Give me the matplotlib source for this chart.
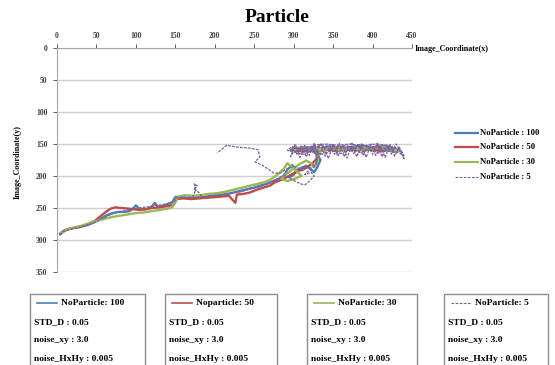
import matplotlib
matplotlib.use('Agg')
import matplotlib.pyplot as plt
from matplotlib.lines import Line2D
from matplotlib.patches import Rectangle

# ---------------- data ----------------
title = "Particle"
x_label = "Image_Coordinate(x)"
y_label = "Image_Coordinate(y)"
x_ticks = [0, 50, 100, 150, 200, 250, 300, 350, 400, 450]
y_ticks = [0, 50, 100, 150, 200, 250, 300, 350]

series_names = ["NoParticle : 100", "NoParticle : 50", "NoParticle : 30", "NoParticle : 5"]
box_titles = ["NoParticle: 100", "Noparticle: 50", "NoParticle: 30", "NoParticle: 5"]
box_lines = ["STD_D : 0.05", "noise_xy : 3.0", "noise_HxHy : 0.005"]

blue_xy = [(4,290),(8,286),(14,283),(22,281),(30,279),(38,277),(46,273),(54,268),(62,262),(70,258),
           (78,256),(86,256),(92,255),(97,250),(100,246),(104,251),(110,252),(116,251),(120,248),(124,242),
           (128,248),(134,247),(140,244),(146,241),(150,233),(156,232),(164,234),(172,234),(180,233),(190,232),
           (200,230),(210,229),(220,227),(230,224),(240,221),(250,218),(258,215),(266,212),(274,208),(282,204),
           (288,199),(292,190),(298,183),(304,192),(300,198),(294,202),(300,196),(308,188),(316,184),(322,190),
           (326,194),(330,186),(334,175),(330,166),(322,160),(312,162),(302,158),(296,160),(304,157),(316,155),
           (330,158),(344,154),(358,157),(372,155),(386,152),(400,156),(414,153),(426,157),(434,160),(428,162),
           (414,158),(400,160),(386,157),(372,160),(358,156),(344,159),(330,161),(316,158),(304,160)]

red_xy = [(4,291),(10,285),(18,282),(28,280),(38,276),(48,270),(56,262),(62,256),(68,251),(74,249),
          (82,250),(90,251),(98,252),(104,253),(112,252),(120,250),(130,249),(140,247),(148,245),(152,236),
          (160,235),(170,236),(180,235),(190,234),(200,233),(210,232),(218,231),(226,242),(228,229),(236,228),
          (244,226),(252,222),(262,218),(270,215),(276,210),(282,207),(288,204),(294,200),(300,196),(306,192),
          (312,190),(318,185),(324,180),(330,172),(332,165),(326,160),(316,158),(306,156),(298,159),(310,161),
          (324,157),(338,160),(352,156),(366,159),(380,155),(394,158),(408,154),(420,158),(410,161),(396,157),
          (382,160),(368,157),(354,161),(340,158)]

green_xy = [(6,289),(12,284),(20,281),(30,278),(40,274),(50,270),(60,267),(70,264),(80,262),(90,260),
            (100,258),(110,257),(120,255),(130,253),(140,251),(146,249),(150,240),(154,232),(162,230),(172,231),
            (182,230),(192,228),(202,227),(212,225),(222,222),(232,219),(242,216),(252,213),(262,210),(270,206),
            (276,201),(282,195),(288,188),(292,180),(298,186),(305,194),(310,200),(302,204),(292,208),(284,204),
            (292,196),(300,188),(308,181),(316,176),(322,180),(326,186),(330,178),(332,168),(328,161),(318,158),
            (308,156),(300,160),(312,158),(326,155),(340,158),(354,155),(368,158),(382,154),(396,157),(410,154),
            (424,158),(432,161),(418,159),(404,156),(390,160),(376,157),(362,160),(348,157),(334,160),(320,157)]

purple_xy = [(4,292),(8,287),(14,284),(20,282),(28,280),(36,277),(44,274),(52,270),(60,265),(68,260),
             (76,257),(84,255),(92,253),(100,251),(108,249),(116,248),(124,246),(132,245),(140,243),(148,241),
             (152,234),(158,233),(166,234),(172,232),(176,222),(174,212),(178,216),(173,220),(180,226),(184,233),
             (192,232),(200,231),(208,230),(216,228),(224,226),(232,225),(240,222),(248,219),(256,217),(264,214),
             (272,210),(278,205),(284,201),(290,199),(296,204),(302,208),(308,212),(314,214),(320,208),(326,200),
             (322,194),(314,198),(320,190),(328,184),(330,176),(328,168),(326,160),(318,156),(308,158),(298,154),
             (292,160),(300,162),(312,158),(324,153),(336,156),(346,151),(356,158),(366,152),(376,157),(386,150),
             (396,156),(406,152),(416,158),(426,154),(436,160),(440,168),(432,163),(420,158),(408,164),(396,159),
             (384,163),(372,158),(360,165),(348,160),(336,166),(324,161),(312,166),(300,162),(296,170),(302,150),
             (308,171),(314,152),(320,168),(326,149),(332,171),(338,153),(344,173),(350,150),(356,169),(362,152),
             (368,172),(374,149),(380,170),(386,153),(392,171),(398,150),(404,168),(410,154),(416,171),(422,151),
             (428,169),(434,155),(440,173),(436,164),(430,150),(424,166),(418,152),(412,170),(406,149),(400,166),
             (394,152),(388,168),(382,150),(376,165),(370,153),(364,170),(358,149),(352,166),(346,154),(340,169),
             (334,150),(328,165),(322,155),(316,170),(310,152),(304,166),(298,156),(310,157),(322,160),(334,152),
             (346,158),(358,153),(370,160),(382,154),(394,160),(406,155),(418,162),(428,158),(420,152),(404,150),
             (388,153),(372,150),(356,152),(340,150),(324,152),(330,170),(328,180),(322,186),(310,190),(300,185),
             (290,190),(282,196),(274,195),(270,191),(260,183),(251,178),(257,170),(255,159),(242,156),(229,155),
             (215,152),(203,164)]

# ---------------- styling ----------------
plt.rcParams['font.family'] = ['Liberation Serif', 'DejaVu Serif']
plt.rcParams['font.weight'] = 'bold'

W, H = 555, 365
fig = plt.figure(figsize=(W / 100, H / 100), dpi=100)
fig.patch.set_facecolor('white')


def fx(px):
    return px / W


def fy(py):
    return 1 - py / H


colors = ['#4a7ebb', '#be4b48', '#98b954', '#7d60a0']
styles = ['-', '-', '-', '--']
widths = [1.7, 1.7, 1.7, 0.9]
all_xy = [blue_xy, red_xy, green_xy, purple_xy]

ax = fig.add_axes([fx(57), fy(272), fx(412) - fx(57), fy(48) - fy(272)])
ax.set_xlim(0, 450)
ax.set_ylim(350, 0)
ax.set_xticks(x_ticks)
ax.set_yticks(y_ticks)
ax.xaxis.tick_top()
ax.tick_params(axis='both', labelsize=5.5, colors='#404040', length=3, width=0.6)
ax.tick_params(axis='x', pad=3)
ax.tick_params(axis='y', pad=4)
for s in ['right', 'bottom']:
    ax.spines[s].set_visible(False)
for s in ['left', 'top']:
    ax.spines[s].set_color('#a6a6a6')
    ax.spines[s].set_linewidth(0.8)
ax.yaxis.grid(True, color='#cfcfcf', linewidth=1.0)
ax.set_axisbelow(True)

for xy, c, ls, lw in zip(all_xy, colors, styles, widths):
    xs = [p[0] for p in xy]
    ys = [p[1] for p in xy]
    ax.plot(xs, ys, color=c, linestyle=ls, linewidth=lw,
            dashes=(2.2, 1.0) if ls == '--' else (None, None))

# title & axis labels
fig.text(fx(277), fy(17), title, ha='center', va='center', fontsize=14, fontweight='bold')
fig.text(fx(415), fy(49), x_label, ha='left', va='center', fontsize=5.8, fontweight='bold')
fig.text(fx(18), fy(162), y_label, ha='center', va='center', rotation=90, fontsize=5.8,
         fontweight='bold')

# right legend
leg_rows = [133, 147, 162, 177]
for name, c, ls, lw, yy in zip(series_names, colors, styles, widths, leg_rows):
    fig.add_artist(Line2D([fx(455), fx(478)], [fy(yy), fy(yy)], color=c, linestyle=ls,
                          linewidth=1.6 if ls == '-' else 0.8,
                          dashes=(2.5, 1.2) if ls == '--' else (None, None)))
    fig.text(fx(480), fy(yy), name, ha='left', va='center', fontsize=6.2, fontweight='bold')

# bottom info boxes
box_left = [30, 165, 307, 444]
box_right = [145, 277, 417, 548]
row_y = [303, 322, 340, 359]
for bt, c, ls, l, r in zip(box_titles, colors, styles, box_left, box_right):
    fig.add_artist(Rectangle((fx(l), fy(367)), fx(r) - fx(l), fy(294) - fy(367),
                             facecolor='white', edgecolor='#8c8c8c', linewidth=1.0))
    fig.add_artist(Line2D([fx(l + 7), fx(l + 27)], [fy(row_y[0]), fy(row_y[0])], color=c,
                          linestyle=ls, linewidth=1.2 if ls == '-' else 0.8,
                          dashes=(2.5, 1.2) if ls == '--' else (None, None)))
    fig.text(fx(l + 31), fy(row_y[0]), bt, ha='left', va='center', fontsize=6.8, fontweight='bold')
    for txt, yy in zip(box_lines, row_y[1:]):
        fig.text(fx(l + 4), fy(yy), txt, ha='left', va='center', fontsize=6.8, fontweight='bold')

fig.savefig('out.png', dpi=100)
